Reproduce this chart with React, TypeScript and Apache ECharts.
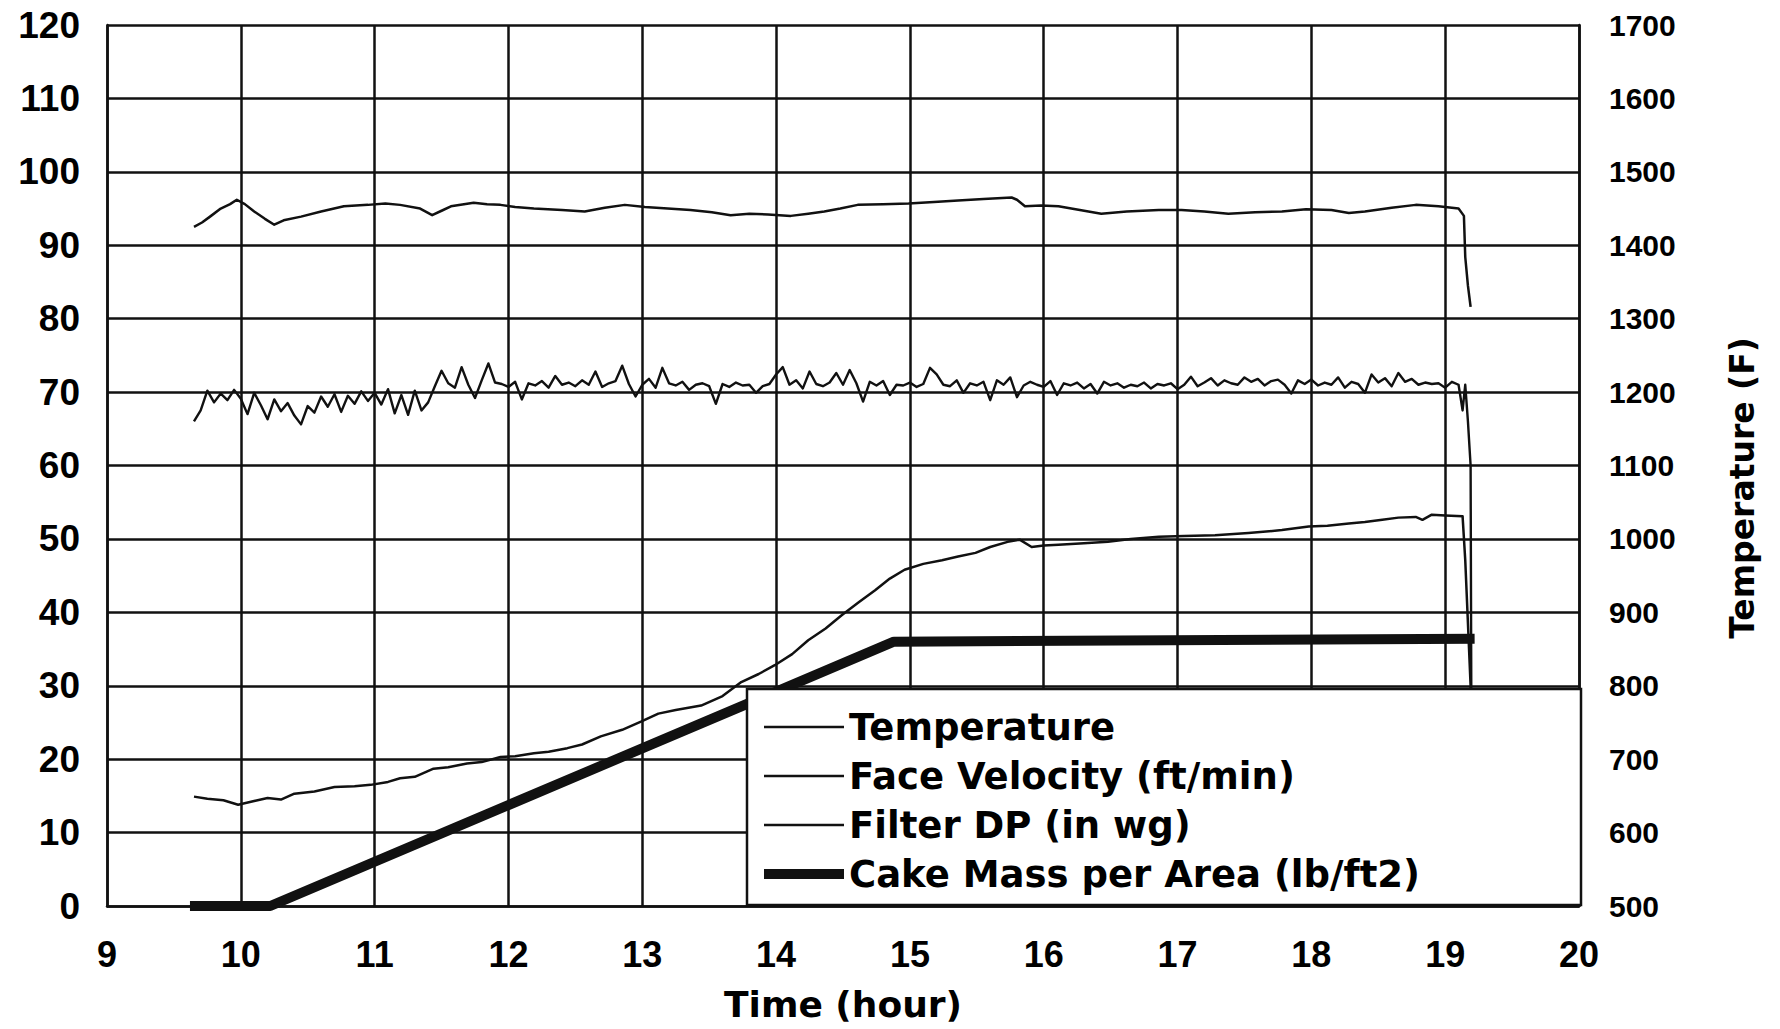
import React, { useEffect, useRef } from "react";
import * as echarts from "echarts";

// ---------- data ----------
const seriesNames = [
  "Temperature",
  "Face Velocity (ft/min)",
  "Filter DP (in wg)",
  "Cake Mass per Area (lb/ft2)",
];

const xTickLabels = [9, 10, 11, 12, 13, 14, 15, 16, 17, 18, 19, 20];
const leftTickLabels = [0, 10, 20, 30, 40, 50, 60, 70, 80, 90, 100, 110, 120];
const rightTickLabels = [500, 600, 700, 800, 900, 1000, 1100, 1200, 1300, 1400, 1500, 1600, 1700];

// Temperature (F), right axis
const tempHours = [
  9.65, 9.71, 9.77, 9.85, 9.92, 9.97, 10.03, 10.1, 10.18, 10.25, 10.32, 10.45, 10.6,
  10.77, 10.95, 11.08, 11.19, 11.34, 11.43, 11.5, 11.57, 11.74, 11.84, 11.94, 12.05,
  12.19, 12.4, 12.57, 12.72, 12.87, 13.02, 13.19, 13.36, 13.52, 13.66, 13.8, 13.94,
  14.11, 14.24, 14.36, 14.48, 14.61, 14.8, 14.99, 15.18, 15.36, 15.55, 15.76, 15.8,
  15.86, 15.98, 16.11, 16.27, 16.43, 16.62, 16.86, 17.03, 17.2, 17.38, 17.58, 17.78,
  17.96, 18.15, 18.28, 18.4, 18.6, 18.78, 18.95, 19.1, 19.14, 19.15, 19.17, 19.19,
];
const tempF = [
  1425, 1431, 1439, 1450, 1456, 1462, 1456, 1446, 1436, 1428, 1434, 1439, 1446,
  1453, 1455, 1457, 1455, 1450, 1441, 1447, 1453, 1458, 1456, 1455, 1452,
  1450, 1448, 1446, 1451, 1455, 1452, 1450, 1448, 1445, 1441, 1443, 1442,
  1440, 1443, 1446, 1450, 1455, 1456, 1457, 1459, 1461, 1463, 1465, 1462,
  1453, 1454, 1453, 1448, 1443, 1446, 1448, 1448, 1446, 1443, 1445, 1446,
  1449, 1448, 1444, 1446, 1451, 1455, 1453, 1450, 1440, 1384, 1345, 1316,
];

// Face velocity (ft/min), left axis, sampled every 0.05 h from 9.65 h
const velStart = 9.65;
const velStep = 0.05;
const velValues = [
  66.0, 67.5, 70.2, 68.6, 69.8, 68.9, 70.3, 69.1, 67.0, 69.9,
  68.2, 66.3, 69.0, 67.4, 68.5, 66.8, 65.6, 68.1, 67.2, 69.4,
  68.0, 69.7, 67.3, 69.5, 68.4, 70.1, 68.8, 69.9, 68.3, 70.4,
  67.1, 69.6, 66.9, 70.2, 67.5, 68.6,
  70.8, 72.9, 71.2, 70.6, 73.4, 71.0, 69.2, 71.6, 73.9, 71.3,
  71.1, 70.7, 71.4, 69.0, 71.2, 70.9, 71.5, 70.6, 72.2, 71.0,
  71.3, 70.8, 71.6, 71.0, 72.8, 70.7, 71.2, 71.5, 73.6, 71.1,
  69.4, 71.0, 71.8, 70.6, 73.3, 71.2, 70.9, 71.4, 70.3, 71.0,
  71.2, 70.8, 68.4, 71.1, 70.7, 71.3, 70.9, 71.0, 69.9, 70.8,
  71.1, 72.4, 73.4, 71.0, 71.6, 70.5, 72.8, 71.1, 70.8, 71.3,
  72.6, 71.0, 73.0, 71.2, 68.7, 71.4, 70.9, 71.5, 69.6, 71.0,
  70.9, 71.3, 70.7, 71.1, 73.3, 72.4, 71.0, 70.8, 71.6, 69.9,
  71.2, 70.9, 71.4, 68.9, 71.6, 71.0, 72.0, 69.3, 70.9, 71.4,
  71.0, 70.7, 71.5, 69.6, 71.2, 70.9, 71.3, 70.5, 71.1, 69.8,
  71.4, 70.9, 71.2, 70.6, 71.0, 70.8, 71.3, 70.5, 71.1, 70.9,
  71.2, 70.4, 71.0, 72.1, 70.8, 71.3, 71.9, 70.9, 71.6, 71.2,
  71.0, 72.0, 71.4, 71.8, 70.9, 71.5, 71.7, 71.0, 69.8, 71.6,
  71.1, 71.7, 70.9, 71.3, 71.0, 72.0, 70.6, 71.4, 71.1, 69.9,
  72.4, 71.3, 71.9, 70.8, 72.6, 71.4, 71.8, 71.0, 71.3, 71.1,
  71.2, 70.6, 71.4, 71.0,
];
const velEndHours = [19.13, 19.15, 19.17, 19.19, 19.2];
const velEndValues = [67.5, 71.0, 66.0, 60.0, 0];

// Filter DP (in wg), left axis
const dpHours = [
  9.65, 9.75, 9.87, 9.98, 10.1, 10.2, 10.3, 10.4, 10.55, 10.7, 10.85, 10.97, 11.1,
  11.19, 11.3, 11.44, 11.55, 11.69, 11.8, 11.94, 12.05, 12.19, 12.3, 12.44, 12.55,
  12.69, 12.85, 12.99, 13.12, 13.25, 13.44, 13.6, 13.74, 13.87, 13.99, 14.12, 14.24,
  14.37, 14.49, 14.62, 14.74, 14.85, 14.96, 15.1, 15.24, 15.36, 15.49, 15.6, 15.73,
  15.82, 15.91, 16.0, 16.11, 16.3, 16.48, 16.65, 16.86, 17.05, 17.28, 17.53, 17.78,
  17.98, 18.12, 18.28, 18.4, 18.53, 18.65, 18.78, 18.83, 18.9, 19.0, 19.13, 19.15,
  19.19, 19.2,
];
const dpValues = [
  14.9, 14.6, 14.4, 13.8, 14.3, 14.7, 14.5, 15.3, 15.6, 16.2, 16.3, 16.5, 16.9,
  17.4, 17.6, 18.7, 18.9, 19.4, 19.6, 20.3, 20.4, 20.8, 21.0, 21.5, 22.0,
  23.1, 24.0, 25.1, 26.2, 26.7, 27.3, 28.6, 30.5, 31.6, 32.8, 34.3, 36.2,
  37.8, 39.6, 41.4, 43.0, 44.6, 45.8, 46.6, 47.1, 47.6, 48.1, 48.9, 49.6,
  49.9, 48.9, 49.1, 49.2, 49.4, 49.6, 50.0, 50.3, 50.4, 50.5, 50.8, 51.2,
  51.7, 51.8, 52.1, 52.3, 52.6, 52.9, 53.0, 52.6, 53.3, 53.2, 53.1, 47.1,
  30.0, 0,
];

// Cake mass per area (lb/ft2), left axis
const cakeHours = [9.62, 10.22, 14.88, 19.22];
const cakeValues = [0, 0, 36.0, 36.4];

// ---------- helpers ----------
const pairs = (xs: number[], ys: number[]) => xs.map((x, i) => [x, ys[i]]);
const velPairs = velValues
  .map((v, i) => [Math.round((velStart + i * velStep) * 100) / 100, v])
  .concat(pairs(velEndHours, velEndValues));

const INK = "#111";
const tickFont = "Liberation Sans";
const titleFont = "DejaVu Sans";
const thinIcon = "path://M0,0H78V2.5H0Z";
const thickIcon = "path://M0,0H80V10H0Z";

export default function App() {
  const ref = useRef<HTMLDivElement>(null);

  useEffect(() => {
    if (!ref.current) return;
    const chart = echarts.init(ref.current, undefined, { renderer: "svg" });
    const lineBase = (width: number) => ({
      type: "line",
      showSymbol: false,
      symbol: "none",
      color: INK,
      itemStyle: { color: INK },
      lineStyle: { color: INK, width, cap: "butt", join: "round" },
      z: 2,
    });
    chart.setOption({
      animation: false,
      backgroundColor: "#ffffff",
      grid: { left: 107, top: 25, width: 1472, height: 881, containLabel: false },
      xAxis: {
        type: "value",
        min: xTickLabels[0],
        max: xTickLabels[xTickLabels.length - 1],
        interval: 1,
        axisLine: { show: true, lineStyle: { color: INK, width: 2.5 } },
        axisTick: { show: false },
        splitLine: { show: true, lineStyle: { color: INK, width: 2.5 } },
        axisLabel: {
          margin: 30,
          color: "#000",
          fontFamily: `"Liberation Sans Narrow", "${tickFont}"`,
          fontWeight: "bold",
          fontSize: 36,
        },
        name: "Time (hour)",
        nameLocation: "middle",
        nameGap: 80,
        nameTextStyle: { color: "#000", fontFamily: titleFont, fontWeight: "bold", fontSize: 36 },
      },
      yAxis: [
        {
          type: "value",
          min: leftTickLabels[0],
          max: leftTickLabels[leftTickLabels.length - 1],
          interval: 10,
          axisLine: { show: true, lineStyle: { color: INK, width: 2.5 } },
          axisTick: { show: false },
          splitLine: { show: true, lineStyle: { color: INK, width: 2.5 } },
          axisLabel: {
            margin: 27,
            color: "#000",
            fontFamily: tickFont,
            fontWeight: "bold",
            fontSize: 37,
          },
        },
        {
          type: "value",
          position: "right",
          min: rightTickLabels[0],
          max: rightTickLabels[rightTickLabels.length - 1],
          interval: 100,
          axisLine: { show: true, lineStyle: { color: INK, width: 2.5 } },
          axisTick: { show: false },
          splitLine: { show: false },
          axisLabel: {
            margin: 30,
            color: "#000",
            fontFamily: tickFont,
            fontWeight: "bold",
            fontSize: 30,
            formatter: (v: number) => String(v),
          },
        },
      ],
      legend: {
        orient: "vertical",
        left: 764,
        top: 707,
        padding: 0,
        itemWidth: 80,
        itemHeight: 14,
        itemGap: 9,
        selectedMode: false,
        z: 5,
        data: seriesNames.map((name, i) => ({
          name,
          icon: i === 3 ? thickIcon : thinIcon,
          itemStyle: { color: INK, borderWidth: 0 },
        })),
        textStyle: {
          color: "#000",
          fontFamily: titleFont,
          fontWeight: "bold",
          fontSize: 37,
          lineHeight: 40,
        },
      },
      graphic: [
        {
          type: "rect",
          z: 3,
          shape: { x: 747, y: 689, width: 834, height: 216 },
          style: { fill: "#ffffff", stroke: INK, lineWidth: 2.5 },
        },
        {
          type: "text",
          x: 1742,
          y: 488,
          rotation: Math.PI / 2,
          z: 5,
          style: {
            text: "Temperature (F)",
            font: `bold 33px "${titleFont}"`,
            fill: "#000",
            textAlign: "center",
            textVerticalAlign: "middle",
            align: "center",
            verticalAlign: "middle",
          },
        },
      ],
      series: [
        { ...lineBase(2.5), name: seriesNames[0], yAxisIndex: 1, data: pairs(tempHours, tempF) },
        { ...lineBase(2.4), name: seriesNames[1], yAxisIndex: 0, data: velPairs },
        { ...lineBase(2.5), name: seriesNames[2], yAxisIndex: 0, data: pairs(dpHours, dpValues) },
        { ...lineBase(10), name: seriesNames[3], yAxisIndex: 0, data: pairs(cakeHours, cakeValues) },
      ],
    });
    return () => chart.dispose();
  }, []);

  return (
    <div
      ref={ref}
      style={{ position: "absolute", left: 0, top: 0, width: 1780, height: 1029, background: "#fff" }}
    />
  );
}
